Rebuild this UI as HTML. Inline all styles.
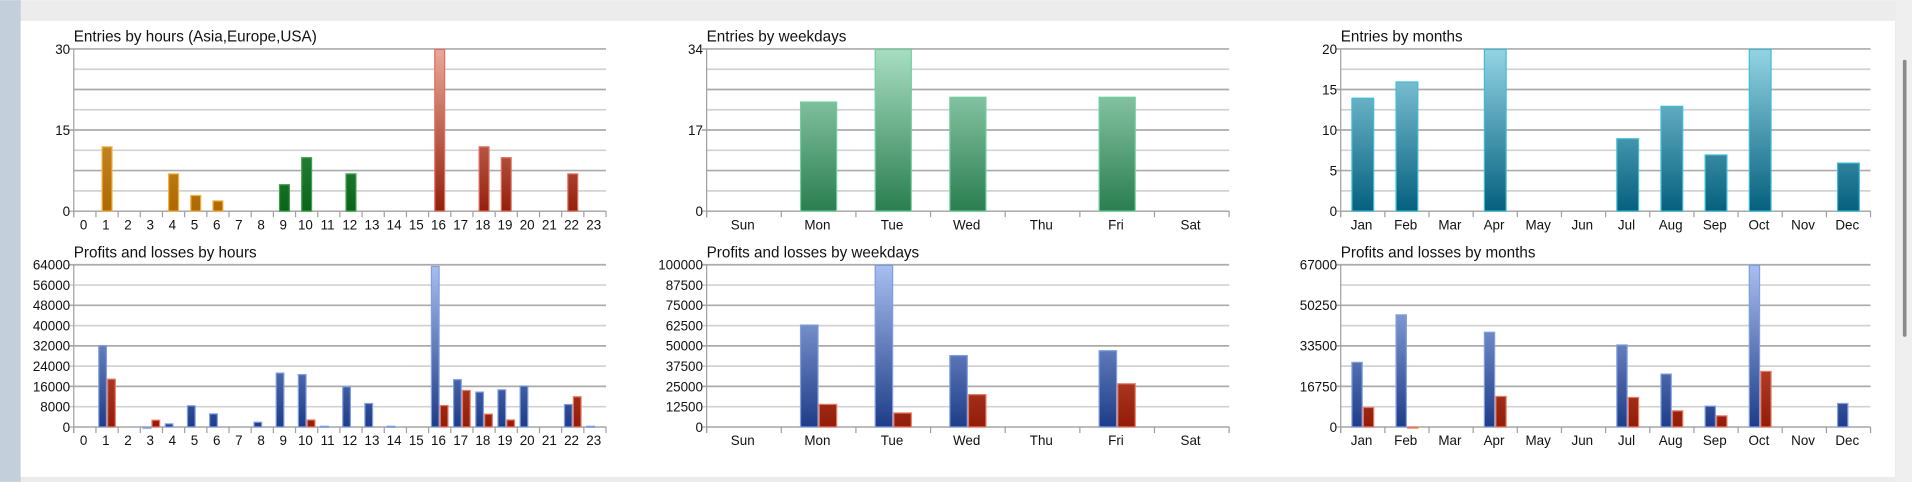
<!DOCTYPE html>
<html><head><meta charset="utf-8"><style>
html,body{margin:0;padding:0;width:1912px;height:482px;overflow:hidden;background:#fff}
svg{display:block}
text{font-family:"Liberation Sans",Arial,sans-serif;fill:#111}
</style></head><body>
<svg id="s" width="1912" height="482" viewBox="0 0 1568 395" xmlns="http://www.w3.org/2000/svg"></svg>
<script>
var s=document.getElementById('s');var h='';
h+='<rect x="0" y="0" width="1568" height="395" fill="#ececec"/>';
h+='<rect x="0" y="0" width="17" height="395" fill="#c3d0dc"/>';
h+='<rect x="17" y="17" width="1537" height="374" fill="#fff"/>';
h+='<rect x="1555" y="0" width="13" height="395" fill="#efefef"/>';
h+='<rect x="1560.5" y="49" width="3" height="227" fill="#8a8a8a" rx="1"/>';
var defs='<defs>';var gid=0;
function grad(top,bot,y1,y2){var id='g'+(gid++);defs+='<linearGradient id="'+id+'" gradientUnits="userSpaceOnUse" x1="0" y1="'+y1+'" x2="0" y2="'+y2+'"><stop offset="0" stop-color="'+top+'"/><stop offset="1" stop-color="'+bot+'"/></linearGradient>';return 'url(#'+id+')';}
function chart(o){
 var L=o.L,R=o.R,T=o.T,B=o.B,n=o.cats.length,cw=(R-L)/n;
 h+='<text x="'+L+'" y="'+(T-6)+'" font-size="12.5">'+o.title+'</text>';
 for(var i=0;i<=8;i++){var y=T+(B-T)*i/8;h+='<line x1="'+(L-(i%o.lblEvery==0?4:0))+'" y1="'+y+'" x2="'+R+'" y2="'+y+'" stroke="'+(i%2==0?'#ababab':'#d2d2d2')+'" stroke-width="'+(i==8?1:1.4)+'"/>';}
 h+='<line x1="'+L+'" y1="'+T+'" x2="'+L+'" y2="'+(B+5)+'" stroke="#a0a0a0"/>';
 h+='<line x1="'+L+'" y1="'+B+'" x2="'+R+'" y2="'+B+'" stroke="#a0a0a0"/>';
 o.labels.forEach(function(l,i){var y=B-(B-T)*i/(o.labels.length-1);h+='<text x="'+(L-3)+'" y="'+(y+4)+'" font-size="11" text-anchor="end">'+l+'</text>';});
 for(var i=0;i<=n;i++){var x=L+cw*i;h+='<line x1="'+x+'" y1="'+B+'" x2="'+x+'" y2="'+(B+5)+'" stroke="#a0a0a0"/>';}
 o.cats.forEach(function(c,i){h+='<text x="'+(L+cw*(i+0.5)-1)+'" y="'+(B+15)+'" font-size="11" text-anchor="middle">'+c+'</text>';});
 o.series.forEach(function(sr){
  sr.v.forEach(function(v,i){if(!v)return;var fl=typeof sr.fill=='function'?sr.fill(i):sr.fill;var st=typeof sr.stroke=='function'?sr.stroke(i):sr.stroke;
   var bh=(B-T)*v/o.max;var x=L+cw*(i+sr.a);var w=cw*(sr.b-sr.a);
   h+='<rect x="'+(x+0.5)+'" y="'+(B-bh+0.5)+'" width="'+(w-1)+'" height="'+Math.max(bh-0.5,0.8)+'" fill="'+fl+'" stroke="'+st+'" stroke-width="1"/>';});
 });
}
var hrs=[];for(var i=0;i<24;i++)hrs.push(i);
var T1=40,B1=173,T2=217,B2=350;
var gO=grad('#e0aa50','#b06800',T1,B1),gG=grad('#5aaa6a','#0a6418',T1,B1),gR=grad('#eaa898','#94200c',T1,B1);
var eh=[0,12,0,0,7,3,2,0,0,5,10,0,7,0,0,0,30,0,12,10,0,0,7,0];
chart({L:60.5,R:497,T:T1,B:B1,cats:hrs,labels:[0,15,30],lblEvery:4,max:30,title:'Entries by hours (Asia,Europe,USA)',
 series:[{v:eh,a:0.25,b:0.75,fill:function(i){return i<9?gO:i<16?gG:gR},stroke:function(i){return i<9?'#f0b040':i<16?'#40a050':'#e07060'}}]});
var bB2=grad('#a8bff0','#1e3c88',T2,B2),rR2=grad('#e07a60','#921c08',T2,B2);
var ph=[0,32340,0,150,1450,8600,5400,0,2100,21500,20900,500,16100,9500,500,0,63600,18900,14000,14900,16400,0,9100,500];
var lh=[0,19100,0,2900,0,0,0,0,0,0,3000,0,0,0,0,0,8700,14650,5300,3000,0,0,12150,0];
chart({L:60.5,R:497,T:T2,B:B2,cats:hrs,labels:[0,8000,16000,24000,32000,40000,48000,56000,64000],lblEvery:1,max:64000,title:'Profits and losses by hours',
 series:[{v:ph,a:0.1,b:0.5,fill:bB2,stroke:'#7f9de0'},{v:lh,a:0.5,b:0.9,fill:rR2,stroke:'#e87860'}]});
var wd=['Sun','Mon','Tue','Wed','Thu','Fri','Sat'];
var gW=grad('#a8dec2','#2a7e50',T1,B1);
chart({L:579.5,R:1008,T:T1,B:B1,cats:wd,labels:[0,17,34],lblEvery:4,max:34,title:'Entries by weekdays',
 series:[{v:[0,23,34,24,0,24,0],a:0.25,b:0.75,fill:gW,stroke:'#70d0a0'}]});
chart({L:579.5,R:1008,T:T2,B:B2,cats:wd,labels:[0,12500,25000,37500,50000,62500,75000,87500,100000],lblEvery:1,max:100000,title:'Profits and losses by weekdays',
 series:[{v:[0,63200,100000,44400,0,47400,0],a:0.25,b:0.5,fill:bB2,stroke:'#7f9de0'},{v:[0,14300,9000,20300,0,27000,0],a:0.5,b:0.75,fill:rR2,stroke:'#e87860'}]});
var mo=['Jan','Feb','Mar','Apr','May','Jun','Jul','Aug','Sep','Oct','Nov','Dec'];
var gT=grad('#94d4e4','#04607e',T1,B1);
chart({L:1099.5,R:1534,T:T1,B:B1,cats:mo,labels:[0,5,10,15,20],lblEvery:2,max:20,title:'Entries by months',
 series:[{v:[14,16,0,20,0,0,9,13,7,20,0,6],a:0.24,b:0.76,fill:gT,stroke:'#40bcd8'}]});
chart({L:1099.5,R:1534,T:T2,B:B2,cats:mo,labels:[0,16750,33500,50250,67000],lblEvery:2,max:67000,title:'Profits and losses by months',
 series:[{v:[26940,46550,0,39370,0,0,34120,22100,8840,67000,0,9950],a:0.24,b:0.5,fill:bB2,stroke:'#7f9de0'},{v:[8290,200,0,12850,0,0,12430,6900,4830,23200,0,0],a:0.5,b:0.76,fill:rR2,stroke:'#e87860'}]});
defs+='</defs>';
s.innerHTML=defs+h;
</script>
</body></html>
